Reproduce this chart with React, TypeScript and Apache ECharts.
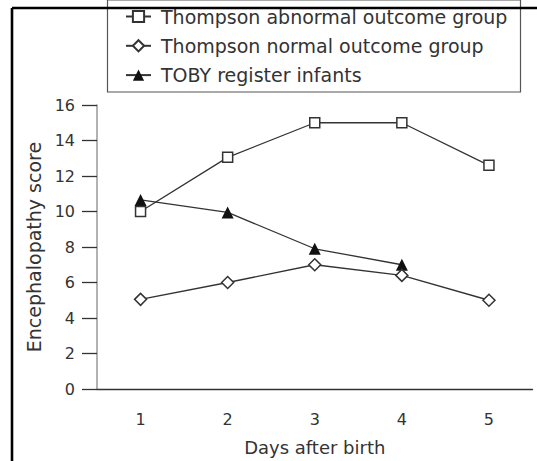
import React, { useEffect, useRef } from "react";
import * as echarts from "echarts";

const days = ["1", "2", "3", "4", "5"];
const abnormal = [10, 13.05, 15, 15, 12.6];
const normal = [5.05, 6, 7, 6.4, 5];
const toby = [10.65, 9.95, 7.9, 7];
const seriesNames = [
  "Thompson abnormal outcome group",
  "Thompson normal outcome group",
  "TOBY register infants",
];

const FONT = "DejaVu Sans";
const INK = "#333";

export default function App() {
  const ref = useRef<HTMLDivElement>(null);
  useEffect(() => {
    if (!ref.current) return;
    const chart = echarts.init(ref.current, null, { renderer: "svg" });
    const lineStyle = { color: INK, width: 1.3 };
    chart.setOption({
      animation: false,
      backgroundColor: "#fff",
      textStyle: { fontFamily: FONT, color: INK },
      grid: { left: 97, right: 4.5, top: 105, bottom: 70.7, containLabel: false },
      legend: {
        orient: "vertical",
        left: 107,
        top: 7,
        padding: [0, 7, 9, 18],
        itemWidth: 25,
        itemHeight: 14,
        itemGap: 10.3,
        data: seriesNames,
        textStyle: { fontFamily: FONT, fontSize: 19, color: INK, padding: [0, 0, 0, 5] },
      },
      xAxis: {
        type: "category",
        data: days,
        boundaryGap: true,
        name: "Days after birth",
        nameLocation: "middle",
        nameGap: 49,
        nameTextStyle: { fontFamily: FONT, fontSize: 18, color: INK },
        axisLine: { lineStyle: { color: INK, width: 1.3 } },
        axisTick: { length: 15, alignWithLabel: false, lineStyle: { color: "#666", width: 1.3 } },
        axisLabel: { fontFamily: FONT, fontSize: 16, color: INK, margin: 22 },
        splitLine: { show: false },
      },
      yAxis: {
        type: "value",
        min: 0,
        max: 16,
        interval: 2,
        name: "Encephalopathy score",
        nameLocation: "middle",
        nameGap: 51,
        nameTextStyle: { fontFamily: FONT, fontSize: 19, color: INK },
        axisLine: { show: true, lineStyle: { color: "#999", width: 1.5 } },
        axisTick: { show: true, length: 15, lineStyle: { color: INK, width: 1.3 } },
        axisLabel: { fontFamily: FONT, fontSize: 16, color: INK, margin: 22 },
        splitLine: { show: false },
      },
      graphic: [
        {
          type: "rect",
          shape: { x: 107.5, y: 0, width: 413, height: 92 },
          style: { fill: "none", stroke: "#555", lineWidth: 1.2 },
          z: 100,
        },
        {
          type: "line",
          shape: { x1: 12, y1: 8, x2: 537, y2: 8 },
          style: { stroke: "#000", lineWidth: 2.6 },
          z: 101,
        },
        {
          type: "line",
          shape: { x1: 12, y1: 8, x2: 12, y2: 461 },
          style: { stroke: "#000", lineWidth: 2.6 },
          z: 101,
        },
      ],
      series: [
        {
          name: seriesNames[0],
          type: "line",
          data: abnormal,
          symbol: "rect",
          symbolSize: 10,
          lineStyle,
          itemStyle: { color: "#fff", borderColor: INK, borderWidth: 1.5 },
          z: 3,
        },
        {
          name: seriesNames[1],
          type: "line",
          data: normal,
          symbol: "diamond",
          symbolSize: 12,
          lineStyle,
          itemStyle: { color: "#fff", borderColor: INK, borderWidth: 1.5 },
          z: 3,
        },
        {
          name: seriesNames[2],
          type: "line",
          data: toby,
          symbol: "triangle",
          symbolSize: 12,
          lineStyle,
          itemStyle: { color: "#111", borderColor: "#111", borderWidth: 0 },
          z: 2,
        },
      ],
    });
    return () => chart.dispose();
  }, []);
  return (
    <div
      ref={ref}
      style={{ position: "fixed", left: 0, top: 0, width: 537, height: 461 }}
    />
  );
}
